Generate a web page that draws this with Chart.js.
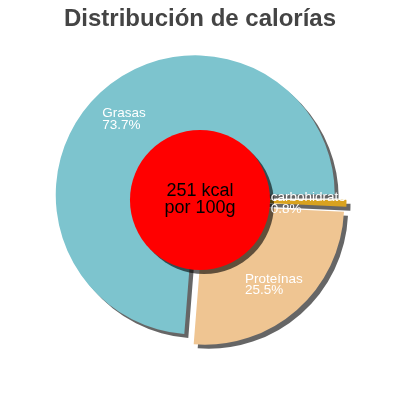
<!DOCTYPE html>
<html><head><meta charset="utf-8">
<script src="https://cdn.jsdelivr.net/npm/chart.js@4/dist/chart.umd.min.js"></script>
<style>html,body{margin:0;padding:0;background:#fff}</style>
</head><body>
<canvas id="c" width="400" height="400" style="width:400px;height:400px;display:block"></canvas>
<script>
const categories = ['Grasas', 'carbohidratos', 'Proteínas'];
const percentages = [73.7, 0.8, 25.5];
const sliceColors = ['#7dc4ce', '#d8a21f', '#efc592'];
const titleText = 'Distribución de calorías';
const centerLines = ['251 kcal', 'por 100g'];

const EXPLODE = 7;
const SHADOW = 4;
const SHADOW_COLOR = 'rgba(0,0,0,0.6)';

const explodePlugin = {
  id: 'explode',
  beforeDatasetDraw(chart, args) {
    const ctx = chart.ctx;
    ctx.save();
    ctx.shadowColor = SHADOW_COLOR;
    ctx.shadowOffsetX = SHADOW;
    ctx.shadowOffsetY = SHADOW;
    ctx.shadowBlur = 0;
    args.meta.data.forEach(arc => {
      const mid = (arc.startAngle + arc.endAngle) / 2;
      ctx.save();
      ctx.translate(Math.cos(mid) * EXPLODE, Math.sin(mid) * EXPLODE);
      arc.draw(ctx);
      ctx.restore();
    });
    ctx.restore();
    return false;
  },
  afterDatasetsDraw(chart) {
    const ctx = chart.ctx;
    const meta = chart.getDatasetMeta(0);
    const a0 = meta.data[0];
    const cx = a0.x, cy = a0.y, R = a0.outerRadius;
    // centre disc
    ctx.save();
    ctx.shadowColor = SHADOW_COLOR;
    ctx.shadowOffsetX = SHADOW;
    ctx.shadowOffsetY = SHADOW;
    ctx.shadowBlur = 0;
    ctx.beginPath();
    ctx.arc(cx, cy, R * 0.502, 0, Math.PI * 2);
    ctx.fillStyle = '#ff0000';
    ctx.fill();
    ctx.restore();
    // centre text
    ctx.save();
    ctx.fillStyle = '#000';
    ctx.font = '18px "Liberation Sans", Arial, sans-serif';
    ctx.textAlign = 'center';
    ctx.textBaseline = 'alphabetic';
    ctx.fillText(centerLines[0], cx, cy - 4);
    ctx.fillText(centerLines[1], cx, cy + 13.3);
    ctx.restore();
    // slice labels
    ctx.save();
    ctx.fillStyle = '#fff';
    ctx.font = '13.5px "Liberation Sans", Arial, sans-serif';
    ctx.textAlign = 'left';
    ctx.textBaseline = 'alphabetic';
    meta.data.forEach((arc, i) => {
      const mid = (arc.startAngle + arc.endAngle) / 2;
      const r = 0.75 * R + EXPLODE;
      const xc = cx + Math.cos(mid) * r;
      const yc = cy + Math.sin(mid) * r;
      const l1 = categories[i];
      const l2 = percentages[i] + '%';
      const w = Math.max(ctx.measureText(l1).width, ctx.measureText(l2).width);
      const x0 = xc - w / 2;
      ctx.fillText(l1, x0, yc - 1);
      ctx.fillText(l2, x0, yc + 10.5);
    });
    ctx.restore();
  }
};

const TITLE_SIZE = 24;
const TITLE_PAD_TOP = 4.5;
const titleHeight = TITLE_SIZE * 1.2 + TITLE_PAD_TOP;

new Chart(document.getElementById('c'), {
  type: 'pie',
  data: {
    labels: categories,
    datasets: [{
      data: percentages,
      backgroundColor: sliceColors,
      borderWidth: 0
    }]
  },
  options: {
    responsive: false,
    animation: false,
    events: [],
    rotation: 184.5,
    radius: 139.5,
    layout: { padding: { top: 0, bottom: titleHeight, left: 0, right: 0 } },
    plugins: {
      legend: { display: false },
      tooltip: { enabled: false },
      title: {
        display: true,
        text: titleText,
        color: '#444',
        font: { family: '"Liberation Sans", Arial, sans-serif', size: TITLE_SIZE, weight: 'bold' },
        padding: { top: TITLE_PAD_TOP, bottom: 0 }
      }
    }
  },
  plugins: [explodePlugin]
});
</script>
</body></html>
